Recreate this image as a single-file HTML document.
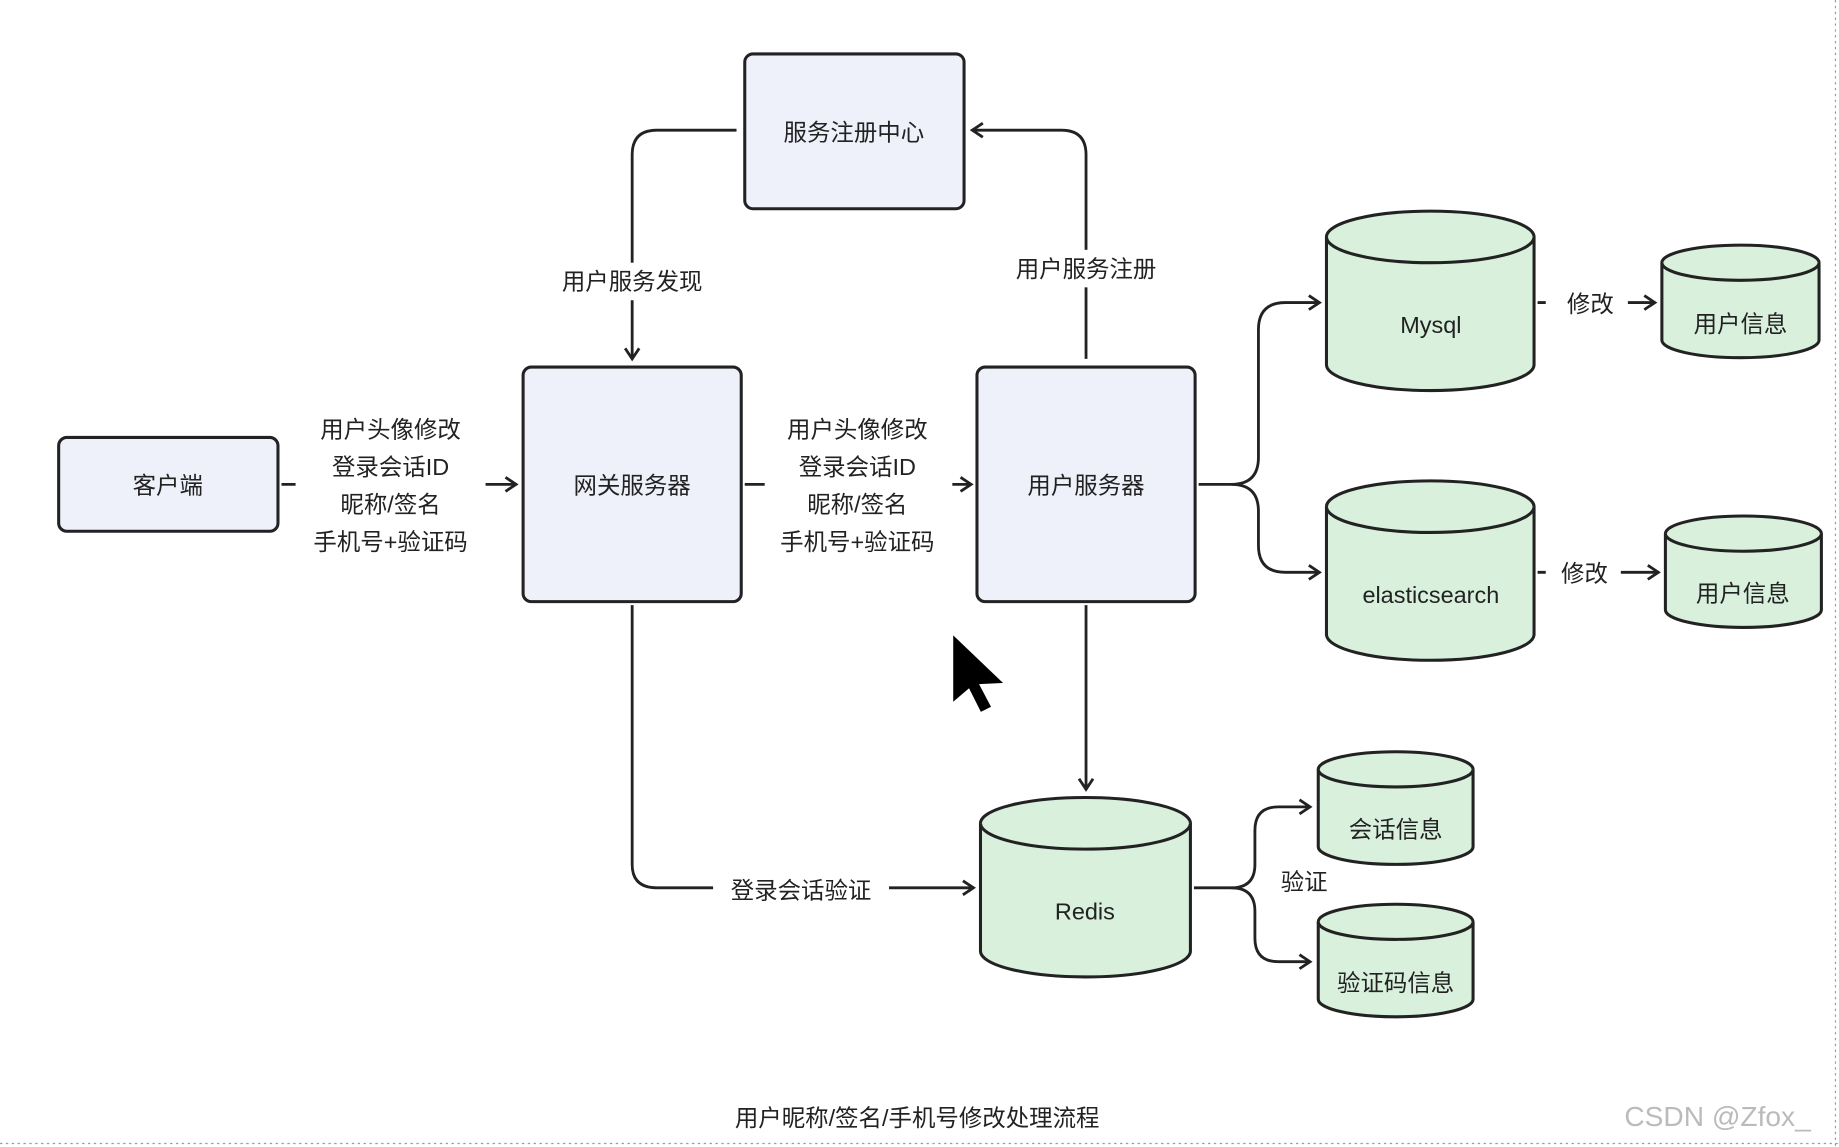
<!DOCTYPE html>
<html><head><meta charset="utf-8">
<style>
html,body{margin:0;padding:0;background:#fff;}
svg{display:block;}
text{font-family:"Liberation Sans","Noto Sans CJK SC",sans-serif;fill:#222;}
</style></head>
<body>
<svg width="1839" height="1147" viewBox="0 0 1568 978" xmlns="http://www.w3.org/2000/svg">
<defs>
<marker id="a" markerWidth="14" markerHeight="14" refX="11" refY="7" orient="auto" markerUnits="userSpaceOnUse">
<path d="M2,1 L11,7 L2,13" fill="none" stroke="#222" stroke-width="2.4"/>
</marker>
</defs>
<rect width="1568" height="978" fill="#fff"/>
<line x1="0" y1="975" x2="1568" y2="975" stroke="#99a" stroke-width="1" stroke-dasharray="2,3"/>
<line x1="1565" y1="0" x2="1565" y2="978" stroke="#99a" stroke-width="1" stroke-dasharray="2,3"/>

<g stroke="#222" stroke-width="2.4" fill="none">
<!-- discovery -->
<path d="M628,111 L560,111 Q539,111 539,132 L539,306" marker-end="url(#a)"/>
<!-- register -->
<path d="M926,306 L926,132 Q926,111 905,111 L829,111" marker-end="url(#a)"/>
<!-- client->gw -->
<path d="M240,413 L440,413" marker-end="url(#a)"/>
<!-- gw->user -->
<path d="M635,413 L828,413" marker-end="url(#a)"/>
<!-- user -> mysql/es -->
<path d="M1022,413 L1050,413 Q1073,413 1073,390 L1073,281 Q1073,258 1096,258 L1125,258" marker-end="url(#a)"/>
<path d="M1050,413 Q1073,413 1073,436 L1073,465 Q1073,488 1096,488 L1125,488" marker-end="url(#a)"/>
<path d="M1311,258 L1411,258" marker-end="url(#a)"/>
<path d="M1311,488 L1414,488" marker-end="url(#a)"/>
<!-- user->redis -->
<path d="M926,516 L926,673" marker-end="url(#a)"/>
<!-- gw->redis -->
<path d="M539,516 L539,737 Q539,757 560,757 L830,757" marker-end="url(#a)"/>
<!-- redis -> small -->
<path d="M1018,757 L1050,757 Q1070,757 1070,737 L1070,708 Q1070,688 1090,688 L1117,688" marker-end="url(#a)"/>
<path d="M1050,757 Q1070,757 1070,777 L1070,800 Q1070,820 1090,820 L1117,820" marker-end="url(#a)"/>
</g>

<!-- label backgrounds -->
<g fill="#fff">
<rect x="252" y="348" width="162" height="130"/>
<rect x="652" y="348" width="160" height="130"/>
<rect x="466" y="224" width="146" height="32"/>
<rect x="852" y="213" width="148" height="32"/>
<rect x="608" y="741" width="150" height="34"/>
<rect x="1318" y="242" width="70" height="32"/>
<rect x="1318" y="472" width="64" height="32"/>
</g>

<!-- boxes -->
<g fill="#eef0fa" stroke="#222" stroke-width="2.6">
<rect x="635" y="46" width="187" height="132" rx="7"/>
<rect x="50" y="373" width="187" height="80" rx="7"/>
<rect x="446" y="313" width="186" height="200" rx="7"/>
<rect x="833" y="313" width="186" height="200" rx="7"/>
</g>

<!-- cylinders -->
<g fill="#d8f0dc" stroke="#222" stroke-width="2.6">
<path d="M1131,202 L1131,311 A88.5,22 0 0 0 1308,311 L1308,202 A88.5,22 0 0 0 1131,202 Z"/>
<path d="M1131,202 A88.5,22 0 0 0 1308,202"/>
<path d="M1131,432 L1131,541 A88.5,22 0 0 0 1308,541 L1308,432 A88.5,22 0 0 0 1131,432 Z"/>
<path d="M1131,432 A88.5,22 0 0 0 1308,432"/>
<path d="M836,702 L836,811 A89.5,22 0 0 0 1015,811 L1015,702 A89.5,22 0 0 0 836,702 Z"/>
<path d="M836,702 A89.5,22 0 0 0 1015,702"/>
<path d="M1417,224 L1417,290 A67,15 0 0 0 1551,290 L1551,224 A67,15 0 0 0 1417,224 Z"/>
<path d="M1417,224 A67,15 0 0 0 1551,224"/>
<path d="M1420,455 L1420,520 A66.5,15 0 0 0 1553,520 L1553,455 A66.5,15 0 0 0 1420,455 Z"/>
<path d="M1420,455 A66.5,15 0 0 0 1553,455"/>
<path d="M1124,656 L1124,722 A66,15 0 0 0 1256,722 L1256,656 A66,15 0 0 0 1124,656 Z"/>
<path d="M1124,656 A66,15 0 0 0 1256,656"/>
<path d="M1124,786 L1124,852 A66,15 0 0 0 1256,852 L1256,786 A66,15 0 0 0 1124,786 Z"/>
<path d="M1124,786 A66,15 0 0 0 1256,786"/>
</g>

<g font-size="20" text-anchor="middle">
<text x="728" y="120">服务注册中心</text>
<text x="143" y="421">客户端</text>
<text x="539" y="421">网关服务器</text>
<text x="926" y="421">用户服务器</text>
<text x="1220" y="284">Mysql</text>
<text x="1220" y="514">elasticsearch</text>
<text x="925" y="784">Redis</text>
<text x="1484" y="283">用户信息</text>
<text x="1486" y="513">用户信息</text>
<text x="1190" y="714">会话信息</text>
<text x="1190" y="845">验证码信息</text>

<text x="539" y="247">用户服务发现</text>
<text x="926" y="236">用户服务注册</text>
<text x="333" y="373">用户头像修改</text>
<text x="333" y="405">登录会话ID</text>
<text x="333" y="437">昵称/签名</text>
<text x="333" y="469">手机号+验证码</text>
<text x="731" y="373">用户头像修改</text>
<text x="731" y="405">登录会话ID</text>
<text x="731" y="437">昵称/签名</text>
<text x="731" y="469">手机号+验证码</text>
<text x="1356" y="266">修改</text>
<text x="1351" y="496">修改</text>
<text x="683" y="766">登录会话验证</text>
<text x="1112" y="759">验证</text>
<text x="782" y="960">用户昵称/签名/手机号修改处理流程</text>
</g>
<text x="1385" y="960" font-size="24" style="fill:#bbb">CSDN @Zfox_</text>

<!-- cursor -->
<path d="M812,540 L812,600 L826,588 L836,608 L846,603 L836,584 L857,583 Z" fill="#000" stroke="#fff" stroke-width="1.5"/>
</svg>
</body></html>
